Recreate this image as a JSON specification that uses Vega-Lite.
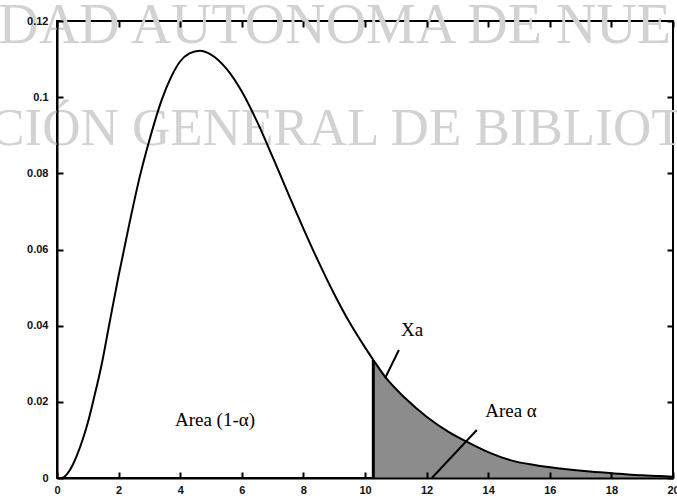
{
  "$schema": "https://vega.github.io/schema/vega-lite/v6.json",
  "width": 616,
  "height": 457,
  "autosize": {"type": "none"},
  "padding": {"left": 57, "top": 21, "right": 4, "bottom": 20},
  "background": "white",
  "config": {
    "view": {"stroke": "black", "strokeWidth": 2},
    "axis": {
      "grid": false,
      "domainColor": "black",
      "domainWidth": 2,
      "tickColor": "black",
      "tickWidth": 2,
      "tickSize": -6,
      "labelFont": "Liberation Sans",
      "labelFontSize": 11,
      "labelFontWeight": "bold",
      "labelColor": "#111",
      "labelOverlap": false,
      "title": null
    }
  },
  "datasets": {
    "curve": [
      {"x": 0, "y": 0},
      {"x": 0.15, "y": 0},
      {"x": 0.42, "y": 0.0021},
      {"x": 0.64, "y": 0.0058},
      {"x": 0.85, "y": 0.0105},
      {"x": 1.0, "y": 0.0145},
      {"x": 1.2, "y": 0.021},
      {"x": 1.45, "y": 0.0298},
      {"x": 1.67, "y": 0.0392},
      {"x": 1.99, "y": 0.0527},
      {"x": 2.35, "y": 0.0668},
      {"x": 2.69, "y": 0.0792},
      {"x": 3.02, "y": 0.0893},
      {"x": 3.4, "y": 0.0993},
      {"x": 3.7, "y": 0.1052},
      {"x": 3.99, "y": 0.1093},
      {"x": 4.3, "y": 0.1115},
      {"x": 4.64, "y": 0.1122},
      {"x": 5.0, "y": 0.1112},
      {"x": 5.5, "y": 0.1075},
      {"x": 6.0, "y": 0.1015},
      {"x": 6.5, "y": 0.0935},
      {"x": 7.0, "y": 0.0843},
      {"x": 7.5, "y": 0.0748},
      {"x": 8.0, "y": 0.0655},
      {"x": 8.5, "y": 0.0566},
      {"x": 9.0, "y": 0.0483},
      {"x": 9.5, "y": 0.0408},
      {"x": 10.0, "y": 0.0343},
      {"x": 10.27, "y": 0.031},
      {"x": 10.65, "y": 0.0266},
      {"x": 11.3, "y": 0.021},
      {"x": 12.0, "y": 0.0161},
      {"x": 12.7, "y": 0.0122},
      {"x": 13.41, "y": 0.0091},
      {"x": 14.0, "y": 0.0068},
      {"x": 14.71, "y": 0.0047},
      {"x": 15.5, "y": 0.0034},
      {"x": 16.33, "y": 0.0025},
      {"x": 17.3, "y": 0.0017},
      {"x": 18.28, "y": 0.0011},
      {"x": 19.0, "y": 0.0007},
      {"x": 19.58, "y": 0.0005},
      {"x": 20, "y": 0.0003}
    ],
    "watermarkTop": [
      {"x": -1.9, "y": 0.1142, "label": "DAD AUTONOMA DE NUE"}
    ],
    "watermarkBottom": [
      {"x": -2.2, "y": 0.0874, "label": "CIÓN GENERAL DE BIBLIOT"}
    ],
    "leaders": [
      {"x": 11.1, "y": 0.0336, "x2": 10.65, "y2": 0.0262},
      {"x": 13.63, "y": 0.0126, "x2": 12.17, "y2": 0}
    ],
    "labels": [
      {"x": 11.53, "y": 0.0389, "label": "Xa"},
      {"x": 14.74, "y": 0.0176, "label": "Area α"},
      {"x": 5.13, "y": 0.0152, "label": "Area (1-α)"}
    ],
    "cut": [
      {"x": 10.27, "y": 0, "y2": 0.031}
    ]
  },
  "layer": [
    {
      "data": {"name": "watermarkTop"},
      "mark": {"type": "text", "align": "left", "baseline": "alphabetic", "font": "Liberation Serif", "fontSize": 56, "color": "#d2d2d2"},
      "encoding": {
        "x": {"field": "x", "type": "quantitative", "axis": null},
        "y": {"field": "y", "type": "quantitative", "axis": null},
        "text": {"field": "label"}
      }
    },
    {
      "data": {"name": "watermarkBottom"},
      "mark": {"type": "text", "align": "left", "baseline": "alphabetic", "font": "Liberation Serif", "fontSize": 53, "color": "#d2d2d2"},
      "encoding": {
        "x": {"field": "x", "type": "quantitative", "axis": null},
        "y": {"field": "y", "type": "quantitative", "axis": null},
        "text": {"field": "label"}
      }
    },
    {
      "data": {"name": "curve"},
      "transform": [{"filter": "datum.x >= 10.27"}],
      "mark": {"type": "area", "color": "#8c8c8c", "interpolate": "monotone"},
      "encoding": {
        "x": {"field": "x", "type": "quantitative", "axis": null},
        "y": {"field": "y", "type": "quantitative", "axis": null}
      }
    },
    {
      "data": {"name": "curve"},
      "mark": {"type": "line", "color": "black", "strokeWidth": 2, "interpolate": "monotone"},
      "encoding": {
        "x": {
          "field": "x", "type": "quantitative",
          "scale": {"domain": [0, 20], "nice": false},
          "axis": {"orient": "bottom", "zindex": 2, "values": [0, 2, 4, 6, 8, 10, 12, 14, 16, 18, 20], "labelPadding": 12, "labelFlush": false}
        },
        "y": {
          "field": "y", "type": "quantitative",
          "scale": {"domain": [0, 0.12], "nice": false},
          "axis": {
            "orient": "left",
            "zindex": 2,
            "values": [0, 0.02, 0.04, 0.06, 0.08, 0.1, 0.12],
            "labelExpr": "datum.value == 0 ? '0' : format(datum.value, '.2~f')",
            "labelPadding": 15,
            "labelFlush": false
          }
        }
      }
    },
    {
      "data": {"name": "cut"},
      "mark": {"type": "rule", "color": "black", "strokeWidth": 3},
      "encoding": {
        "x": {
          "field": "x", "type": "quantitative",
          "axis": {"orient": "top", "zindex": 2, "values": [0, 2, 4, 6, 8, 10, 12, 14, 16, 18, 20], "labels": false, "domain": false}
        },
        "y": {
          "field": "y", "type": "quantitative",
          "axis": {"orient": "right", "zindex": 2, "values": [0, 0.02, 0.04, 0.06, 0.08, 0.1, 0.12], "labels": false, "domain": false}
        },
        "y2": {"field": "y2"}
      }
    },
    {
      "data": {"name": "leaders"},
      "mark": {"type": "rule", "color": "black", "strokeWidth": 2},
      "encoding": {
        "x": {"field": "x", "type": "quantitative", "axis": null},
        "y": {"field": "y", "type": "quantitative", "axis": null},
        "x2": {"field": "x2"},
        "y2": {"field": "y2"}
      }
    },
    {
      "data": {"name": "labels"},
      "mark": {"type": "text", "align": "center", "baseline": "middle", "font": "Liberation Serif", "fontSize": 19, "color": "black"},
      "encoding": {
        "x": {"field": "x", "type": "quantitative", "axis": null},
        "y": {"field": "y", "type": "quantitative", "axis": null},
        "text": {"field": "label"}
      }
    }
  ],
  "resolve": {"axis": {"x": "independent", "y": "independent"}}
}
